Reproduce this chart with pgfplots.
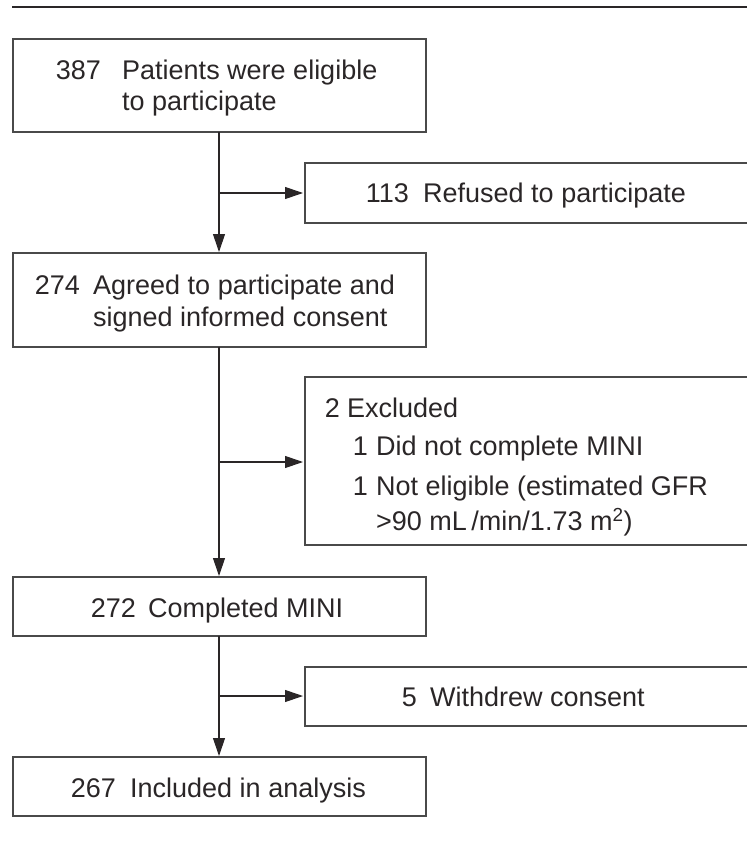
\documentclass[border=0pt]{standalone}
\usepackage{pgfplots}
\pgfplotsset{compat=1.18}
\usepackage{fontspec}
\setmainfont{Liberation Sans}
\usetikzlibrary{arrows.meta}
\definecolor{ink}{HTML}{2A2627}
\definecolor{boxc}{HTML}{4A4A4A}
\tikzset{tx/.style={anchor=base west, font=\fontsize{27bp}{32bp}\selectfont, text=ink, inner sep=0pt},
         nx/.style={anchor=base east, font=\fontsize{27bp}{32bp}\selectfont, text=ink, inner sep=0pt}}
\begin{document}
\begin{tikzpicture}
\begin{axis}[
  width=747bp, height=841bp, scale only axis,
  xmin=0, xmax=747, ymin=0, ymax=841, y dir=reverse,
  hide axis, clip=true,
]
\path (axis cs:0,0) rectangle (axis cs:747,841);
% top rule
\draw[ink, line width=1.8bp] (axis cs:12,7) -- (axis cs:760,7);
% boxes
\tikzset{bx/.style={draw=boxc, line width=1.2bp}}
\draw[bx] (axis cs:13,39) rectangle (axis cs:426,132);
\draw[bx] (axis cs:305,163) rectangle (axis cs:770,223);
\draw[bx] (axis cs:13,253) rectangle (axis cs:426,347);
\draw[bx] (axis cs:305,377) rectangle (axis cs:770,545);
\draw[bx] (axis cs:13,577) rectangle (axis cs:426,636);
\draw[bx] (axis cs:305,667) rectangle (axis cs:770,726);
\draw[bx] (axis cs:13,757) rectangle (axis cs:426,816);
% arrows
\tikzset{ar/.style={ink, line width=1.1bp, -{Triangle[length=18bp,width=12bp]}}}
\draw[ar] (axis cs:219,132) -- (axis cs:219,252);
\draw[ar] (axis cs:219,347) -- (axis cs:219,576);
\draw[ar] (axis cs:219,636) -- (axis cs:219,756);
\draw[ar] (axis cs:219,193) -- (axis cs:303,193);
\draw[ar] (axis cs:219,462) -- (axis cs:303,462);
\draw[ar] (axis cs:219,696) -- (axis cs:303,696);
% texts
\node[nx] at (axis cs:101,80) {387};
\node[tx] at (axis cs:122,80) {Patients were eligible};
\node[tx] at (axis cs:122,111) {to participate};
\node[nx] at (axis cs:409,203) {113};
\node[tx] at (axis cs:423,203) {Refused to participate};
\node[nx] at (axis cs:80,294) {274};
\node[tx] at (axis cs:93,294) {Agreed to participate and};
\node[tx] at (axis cs:93,326) {signed informed consent};
\node[nx] at (axis cs:340,417) {2};
\node[tx] at (axis cs:347,417) {Excluded};
\node[nx] at (axis cs:368,455) {1};
\node[tx] at (axis cs:376,455) {Did not complete MINI};
\node[nx] at (axis cs:368,495) {1};
\node[tx] at (axis cs:376,495) {Not eligible (estimated GFR};
\node[tx] at (axis cs:376,530) {>90 mL\,/min/1.73 m\textsuperscript{2})};
\node[nx] at (axis cs:136,617) {272};
\node[tx] at (axis cs:148,617) {Completed MINI};
\node[nx] at (axis cs:417,706) {5};
\node[tx] at (axis cs:430,706) {Withdrew consent};
\node[nx] at (axis cs:116,797) {267};
\node[tx] at (axis cs:130,797) {Included in analysis};
\end{axis}
\end{tikzpicture}
\end{document}
